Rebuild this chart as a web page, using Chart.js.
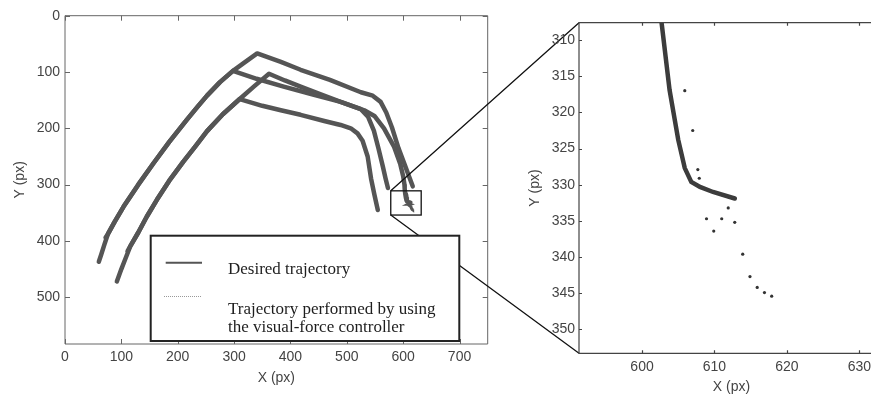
<!DOCTYPE html>
<html>
<head>
<meta charset="utf-8">
<script src="https://cdn.jsdelivr.net/npm/chart.js@4.4.0/dist/chart.umd.min.js"></script>
<style>
  html, body { margin: 0; padding: 0; background: #fff; overflow: hidden; }
  #wrap { position: relative; width: 871px; height: 394px; overflow: hidden; }
  #mainChart { position: absolute; left: 0; top: 0; }
  #zoomChart { position: absolute; left: 500px; top: 0; }
</style>
</head>
<body>
<div id="wrap">
  <canvas id="mainChart" width="871" height="394"></canvas>
  <canvas id="zoomChart" width="390" height="396"></canvas>
</div>
<script>
// trajectories [x, y] in image pixels
const traj1 = [[60,437],[64,425],[70,406],[76,388],[88,366],[104,339],[130,300],[157,262],[185,224],[216,185],[235,162],[252,142],[275,118],[298,98],[340,112],[388,126],[440,140],[489,153],[525,166],[538,180],[548,204],[556,235],[564,268],[569,290],[573,306]];
const traj2 = [[72,394],[76,388],[88,366],[104,339],[130,300],[157,262],[185,224],[216,185],[235,162],[252,142],[275,118],[298,98],[320,82],[341,67],[383,82],[418,96],[470,114],[525,136],[546,142],[560,153],[570,172],[580,198],[592,236],[604,268],[611,287],[617,303]];
const traj3 = [[92,472],[100,450],[107,432],[116,409],[130,385],[145,357],[163,327],[185,293],[210,259],[232,231],[252,205],[280,175],[310,148],[350,160],[383,168],[418,176],[460,187],[489,194],[507,200],[519,209],[528,222],[537,250],[543,289],[549,318],[555,345]];
const traj4 = [[111,418],[116,409],[130,385],[145,357],[163,327],[185,293],[210,259],[232,231],[252,205],[280,175],[310,148],[336,125],[362,103],[390,115],[418,126],[455,140],[489,153],[531,168],[549,178],[566,200],[584,233],[595,264],[600,285],[602.3,300],[602.7,307.6],[603.8,316.9],[605.0,323.8],[605.9,327.7],[606.8,329.6],[608.0,330.3],[609.8,331.0],[612.8,331.9]];
// performed trajectory samples near the end of traj4 (zoomed view)
const performedTail = [[605.9,317.0],[607.0,322.5],[607.7,327.9],[607.9,329.1],[611.9,333.2],[608.9,334.7],[611.0,334.7],[612.8,335.2],[609.9,336.4],[613.9,339.6],[614.9,342.7],[615.9,344.2],[616.9,344.9],[617.9,345.4]];

const mainXTicks = [0, 100, 200, 300, 400, 500, 600, 700];
const mainYTicks = [0, 100, 200, 300, 400, 500];
const mainXRange = [0, 750];
const mainYRange = [0, 583];

const zoomXTicks = [600, 610, 620, 630];
const zoomYTicks = [310, 315, 320, 325, 330, 335, 340, 345, 350];
const zoomXRange = [591.3, 633.4];
const zoomYRange = [307.6, 353.3];

// rectangle marked on the main plot
const zoomBoxX = [578, 632];
const zoomBoxY = [311, 354];

const legendLabels = ['Desired trajectory', ['Trajectory performed by using', 'the visual-force controller']];

const toPts = arr => arr.map(p => ({x: p[0], y: p[1]}));
const tickFont = {family: "'Liberation Sans', Arial, sans-serif", size: 14};
const DESIRED = '#555';
const PERFORMED = '#b4b4b4';

const framePlugin = {
  id: 'frame',
  afterDatasetsDraw(chart, args, opts) {
    const {ctx, chartArea: a, scales: {x, y}} = chart;
    const len = opts.len;
    ctx.save();
    ctx.strokeStyle = opts.color;
    ctx.lineWidth = opts.width;
    ctx.beginPath();
    ctx.rect(a.left, a.top, a.right - a.left, a.bottom - a.top);
    x.ticks.forEach(t => {
      const px = Math.round(x.getPixelForValue(t.value)) + 0.5;
      ctx.moveTo(px, a.bottom); ctx.lineTo(px, a.bottom - len);
      ctx.moveTo(px, a.top); ctx.lineTo(px, a.top + len);
    });
    y.ticks.forEach(t => {
      const py = Math.round(y.getPixelForValue(t.value)) + 0.5;
      ctx.moveTo(a.left, py); ctx.lineTo(a.left + len, py);
      ctx.moveTo(a.right, py); ctx.lineTo(a.right - len, py);
    });
    ctx.stroke();
    ctx.restore();
  }
};

function axis(range, ticks, title, fit, titlePad, tickPad, reverse) {
  return {
    type: 'linear',
    min: range[0], max: range[1], reverse: !!reverse,
    afterBuildTicks: s => { s.ticks = ticks.map(v => ({value: v})); },
    afterFit: fit,
    grid: {display: false, drawTicks: false},
    border: {display: false},
    ticks: {font: tickFont, color: '#444', padding: tickPad},
    title: {display: true, text: title, font: tickFont, color: '#444', padding: titlePad}
  };
}

// zoomed view
const zoomChart = new Chart(document.getElementById('zoomChart'), {
  type: 'scatter',
  data: {
    datasets: [
      {data: toPts(traj4), showLine: true, borderColor: '#3c3c3c', borderWidth: 4.5, pointRadius: 0, clip: 0, borderCapStyle: 'round'},
      {data: toPts(performedTail), showLine: false, pointRadius: 1.6, pointBackgroundColor: '#333', pointBorderWidth: 0}
    ]
  },
  options: {
    responsive: false,
    animation: false,
    layout: {padding: {top: 22.7, right: 6, bottom: 0, left: 0}},
    scales: {
      x: axis(zoomXRange, zoomXTicks, 'X (px)', s => { s.height = 42.7; }, {top: 0, bottom: 0}, 5),
      y: axis(zoomYRange, zoomYTicks, 'Y (px)', s => { s.width = 79; }, {top: 26.6, bottom: 0}, 4, true)
    },
    plugins: {
      legend: {display: false},
      tooltip: {enabled: false},
      frame: {color: '#444', width: 1.2, len: 3}
    }
  },
  plugins: [framePlugin]
});

const overlayPlugin = {
  id: 'overlay',
  afterDraw(chart) {
    const {ctx, scales: {x, y}} = chart;
    ctx.save();
    // zoom box and connector lines
    const bl = x.getPixelForValue(zoomBoxX[0]), br = x.getPixelForValue(zoomBoxX[1]);
    const bt = y.getPixelForValue(zoomBoxY[0]), bb = y.getPixelForValue(zoomBoxY[1]);
    const off = document.getElementById('zoomChart').offsetLeft;
    const za = zoomChart.chartArea;
    ctx.strokeStyle = '#111';
    ctx.lineWidth = 1.3;
    ctx.strokeRect(bl, bt, br - bl, bb - bt);
    ctx.beginPath();
    ctx.moveTo(bl, bt); ctx.lineTo(off + za.left, za.top);
    ctx.moveTo(bl, bb); ctx.lineTo(off + za.left, za.bottom);
    ctx.stroke();

    // legend
    const lx = 150.7, ly = 235.7, lw = 308.6, lh = 105.3;
    ctx.fillStyle = '#fff';
    ctx.fillRect(lx, ly, lw, lh);
    ctx.strokeStyle = '#222';
    ctx.lineWidth = 2;
    ctx.strokeRect(lx, ly, lw, lh);
    ctx.strokeStyle = DESIRED;
    ctx.lineWidth = 2;
    ctx.beginPath(); ctx.moveTo(165.7, 262.7); ctx.lineTo(202, 262.7); ctx.stroke();
    ctx.strokeStyle = '#999';
    ctx.lineWidth = 1;
    ctx.setLineDash([1, 1]);
    ctx.beginPath(); ctx.moveTo(164, 296.5); ctx.lineTo(202, 296.5); ctx.stroke();
    ctx.setLineDash([]);
    ctx.fillStyle = '#1e1e1e';
    ctx.font = "17px 'Liberation Serif', 'Times New Roman', serif";
    ctx.textBaseline = 'alphabetic';
    ctx.fillText(legendLabels[0], 228, 273.5);
    ctx.fillText(legendLabels[1][0], 228, 314);
    ctx.fillText(legendLabels[1][1], 228, 332);
    ctx.restore();
  }
};

const desiredStyle = {showLine: true, borderColor: DESIRED, borderWidth: 4.5, pointRadius: 0, borderJoinStyle: 'round', borderCapStyle: 'round'};
const performedStyle = {showLine: true, borderColor: PERFORMED, borderWidth: 1, borderDash: [1, 3], pointRadius: 0};

new Chart(document.getElementById('mainChart'), {
  type: 'scatter',
  data: {
    datasets: [
      Object.assign({data: toPts(traj1)}, desiredStyle),
      Object.assign({data: toPts(traj2)}, desiredStyle),
      Object.assign({data: toPts(traj3)}, desiredStyle),
      Object.assign({data: toPts(traj4)}, desiredStyle),
      Object.assign({data: toPts(traj1)}, performedStyle),
      Object.assign({data: toPts(traj2)}, performedStyle),
      Object.assign({data: toPts(traj3)}, performedStyle),
      Object.assign({data: toPts(traj4)}, performedStyle),
      {data: toPts(performedTail), showLine: true, borderColor: DESIRED, borderWidth: 3, pointRadius: 0}
    ]
  },
  options: {
    responsive: false,
    animation: false,
    layout: {padding: {top: 15.7, right: 383.3, bottom: 0, left: 0}},
    scales: {
      x: axis(mainXRange, mainXTicks, 'X (px)', s => { s.height = 50; }, {top: 0, bottom: 7.3}, 4.3),
      y: axis(mainYRange, mainYTicks, 'Y (px)', s => { s.width = 65; }, {top: 11.6, bottom: 0}, 5, true)
    },
    plugins: {
      legend: {display: false},
      tooltip: {enabled: false},
      frame: {color: '#666', width: 1, len: 5}
    }
  },
  plugins: [framePlugin, overlayPlugin]
});
</script>
</body>
</html>
